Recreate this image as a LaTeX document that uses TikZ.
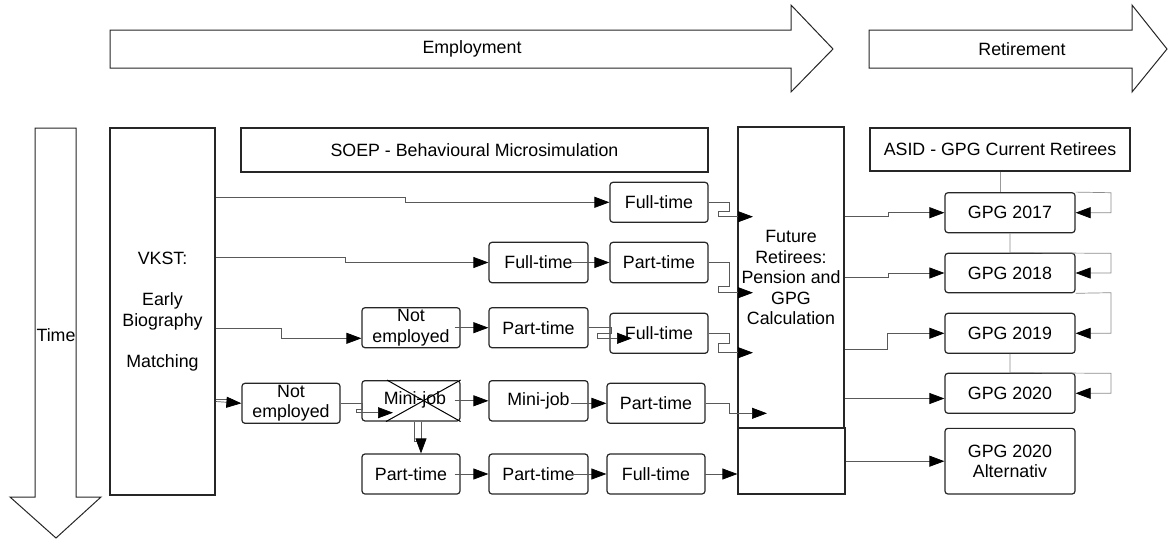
\documentclass[tikz,border=0pt]{standalone}
\usepackage{fontspec}
\setmainfont{Liberation Sans}
\usetikzlibrary{arrows.meta}
\begin{document}
\begin{tikzpicture}[x=1pt,y=-1pt,
  every node/.style={font=\fontsize{17.8}{20.5}\selectfont, text=black},
  bigarrow/.style={draw=black!85, line width=1pt, fill=white},
  plainbox/.style={draw=black!85, line width=1.2pt, inner sep=0pt, align=center, anchor=center},
  rbox/.style={plainbox, rounded corners=3pt},
  conn/.style={draw=black!65, line width=0.7pt},
  arr/.style={-{Triangle[length=15pt,width=11pt,color=black,fill=black]}},
  lbl/.style={inner sep=0pt, align=center}
]
\useasboundingbox (0,0) rectangle (1168,542);

% header arrows
\draw[bigarrow] (110,30) -- (791,30) -- (791,5) -- (833,49) -- (791,92) -- (791,68) -- (110,68) -- cycle;
\node[lbl] (employment) at (472,49) {Employment};
\draw[bigarrow] (869,30) -- (1132,30) -- (1132,5) -- (1167,49) -- (1132,92) -- (1132,68) -- (869,68) -- cycle;
\node[lbl] (retirement) at (1022,49) {Retirement};

% time arrow
\draw[bigarrow] (35,128) -- (76,128) -- (76,497) -- (101,497) -- (56,538) -- (10,497) -- (35,497) -- cycle;
\node[lbl] (time) at (56,335) {Time};

% big boxes
\node[plainbox, minimum width=105pt, minimum height=367pt] (vkst) at (162.5,311.5)
  {VKST:\\[20.5pt]Early\\Biography\\[20.5pt]Matching};
\node[plainbox, minimum width=467pt, minimum height=44pt] (soep) at (474.5,150)
  {SOEP - Behavioural Microsimulation};
\node[plainbox, minimum width=106pt, minimum height=301pt] (fut) at (791,277.5)
  {Future\\Retirees:\\Pension and\\GPG\\Calculation};
\node[plainbox, minimum width=107pt, minimum height=66pt] (futb) at (791.5,461) {};
\node[plainbox, minimum width=260pt, minimum height=43pt] (asid) at (1000,149.5)
  {ASID - GPG Current Retirees};

% GPG boxes
\node[rbox, minimum width=130pt, minimum height=40pt] (g17) at (1010,212.7) {\raisebox{-5pt}{GPG 2017}};
\node[rbox, minimum width=130pt, minimum height=39.4pt] (g18) at (1010,273) {GPG 2018};
\node[rbox, minimum width=130pt, minimum height=40pt] (g19) at (1010,333.3) {GPG 2019};
\node[rbox, minimum width=130pt, minimum height=40pt] (g20) at (1010,393.3) {GPG 2020};
\node[rbox, minimum width=130pt, minimum height=65.7pt] (galt) at (1010,461.2) {GPG 2020\\Alternativ};

% employment state boxes
\node[rbox, minimum width=98pt, minimum height=40pt] (ft1) at (659,202.3) {Full-time};
\node[rbox, minimum width=99pt, minimum height=40.4pt] (ft2) at (538.5,262.5) {Full-time};
\node[rbox, minimum width=98pt, minimum height=40.4pt] (pt2) at (659,262.5) {Part-time};
\node[rbox, minimum width=98pt, minimum height=40pt] (ne3) at (411,327.7) {Not\\employed};
\node[rbox, minimum width=99pt, minimum height=40pt] (pt3) at (538.5,327.7) {Part-time};
\node[rbox, minimum width=98pt, minimum height=40pt] (ft3) at (659,333.3) {Full-time};
\node[rbox, minimum width=98pt, minimum height=40pt] (ne4) at (291,403.3) {Not\\employed};
\node[rbox, minimum width=98pt, minimum height=40.3pt] (mj4) at (411,400.8) {\raisebox{5pt}{\hspace*{8pt}Mini-job}};
\node[rbox, minimum width=99pt, minimum height=40.3pt] (mj5) at (538.5,400.8) {Mini-job};
\node[rbox, minimum width=98pt, minimum height=40pt] (pt4) at (656,403.3) {Part-time};
\node[rbox, minimum width=98pt, minimum height=40pt] (pt5) at (411,474) {Part-time};
\node[rbox, minimum width=99pt, minimum height=40pt] (pt6) at (538.5,474) {Part-time};
\node[rbox, minimum width=98pt, minimum height=40pt] (ft6) at (656,474) {Full-time};

% cross over first mini-job
\draw[line width=1pt] (mj4.north -| 387,0) -- (mj4.south east);
\draw[line width=1pt] (mj4.north east) -- (mj4.south -| 386,0);

% free ends inside boxes
\coordinate (fin1) at (753,216.7);
\coordinate (fin2) at (753,292.7);
\coordinate (fin3) at (632,338.3);
\coordinate (fin4) at (753,352.7);
\coordinate (fin5) at (393,412.7);
\coordinate (fin6) at (767,413.3);

% connectors: employment side
\draw[conn,arr] (vkst.east |- 0,197.3) -- (405,197.3) -- (405,202.3) -- (ft1.west);
\draw[conn,arr] (ft1.east) -- (729,202.3) -- (729,211.7) -- (718,211.7) -- (718,216.7) -- (fin1);
\draw[conn,arr] (vkst.east |- 0,257.7) -- (345,257.7) -- (345,262.5) -- (ft2.west);
\draw[conn,arr] ([xshift=-17pt]ft2.east) -- (pt2.west);
\draw[conn,arr] (pt2.east) -- (729,262.5) -- (729,286.7) -- (718,286.7) -- (718,292.7) -- (fin2);
\draw[conn,arr] (vkst.east |- 0,328.3) -- (281,328.3) -- (281,338.3) -- (ne3.west |- 0,338.3);
\draw[conn,arr] ([xshift=-6pt]ne3.east) -- (pt3.west);
\draw[conn,arr] (pt3.east) -- (611,327.7) -- (611,333.3) -- (597.5,333.3) -- (597.5,338.3) -- (fin3);
\draw[conn,arr] (ft3.east) -- (729,333.3) -- (729,343.3) -- (718,343.3) -- (718,352.7) -- (fin4);
\draw[conn] (vkst.east |- 0,399) -- (232,399) -- (232,401);
\draw[conn,arr] (vkst.east |- 0,401.5) -- (ne4.west);
\draw[conn,arr] (ne4.east) -- (362,403.3) -- (362,409) -- (356,409) -- (356,412.7) -- (fin5);
\draw[conn,arr] ([xshift=-6pt]mj4.east) -- (mj5.west);
\draw[conn,arr] ([xshift=-18pt]mj5.east |- pt4.west) -- (pt4.west);
\draw[conn,arr] (pt4.east) -- (729,403.3) -- (729,413.3) -- (fin6);
\draw[conn] (mj4.south -| 414,0) -- (414,441.7) -- (421,441.7) -- (mj4.south -| 421,0);
\draw[conn,arr] (421,441.7) -- (pt5.north -| 421,0);
\draw[conn,arr] ([xshift=-6pt]pt5.east) -- (pt6.west);
\draw[conn,arr] ([xshift=-17pt]pt6.east) -- (ft6.west);
\draw[conn,arr] ([xshift=-1pt]ft6.east) -- (futb.west |- ft6.east);

% connectors: retirement side
\draw[conn,arr] (fut.east |- 0,216.7) -- (888,216.7) -- (888,212.7) -- (g17.west);
\draw[conn,arr] (fut.east |- 0,277.3) -- (888,277.3) -- (888,273) -- (g18.west);
\draw[conn,arr] (fut.east |- 0,349.3) -- (887,349.3) -- (887,333.3) -- (g19.west);
\draw[conn,arr] (fut.east |- 0,398.5) -- (g20.west |- 0,398.5);
\draw[conn,arr] (futb.east |- galt.west) -- (galt.west);
\draw[conn,draw=black!40] (asid.south) -- (g17.north -| asid.south);
\draw[conn,arr,draw=black!45] (g17.north east) -- (1111,192.7) -- (1111,212.7) -- (g17.east);
\draw[conn,arr,draw=black!45] (g17.south) -- (g17.south |- g18.north) -- (1111,253.3) -- (1111,273) -- (g18.east);
\draw[conn,arr,draw=black!45] (g18.south east) -- (1111,292.7) -- (1111,333.3) -- (g19.east);
\draw[conn,arr,draw=black!45] (g19.south) -- (g19.south |- g20.north) -- (1111,373.3) -- (1111,393.3) -- (g20.east);
\end{tikzpicture}
\end{document}
